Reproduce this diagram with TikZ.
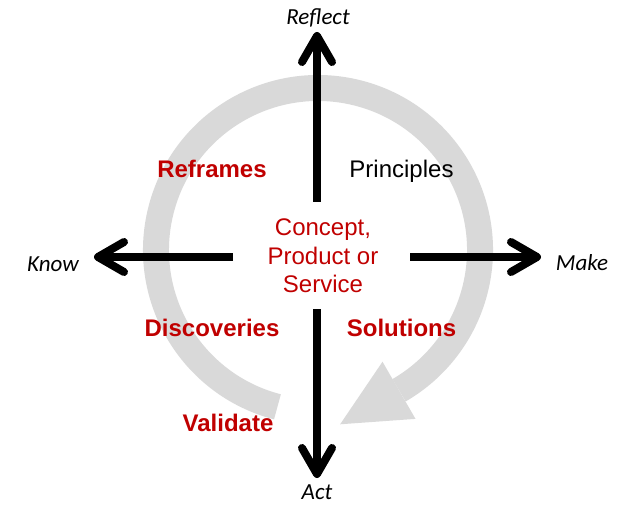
\documentclass[tikz,border=0pt]{standalone}
\usepackage{fontspec}
\setmainfont{Liberation Sans}
\newfontfamily\achsenschrift{Carlito}
\usetikzlibrary{arrows.meta}
\definecolor{kreis}{RGB}{217,217,217}
\definecolor{rot}{RGB}{192,0,0}

\begin{document}
\begin{tikzpicture}[x=1pt,y=-1pt,
	achse/.style={line width=8pt,-{Straight Barb[round,length=26pt,width=30pt]}},
	richtung/.style={anchor=base,inner sep=0pt,font=\achsenschrift\itshape\fontsize{23}{27}\selectfont},
	stufe/.style={anchor=base,text=rot,font=\bfseries\fontsize{24}{28}\selectfont}]
	\useasboundingbox (0,0) rectangle (621,505);
	\coordinate (O) at (318,250);
	% grauer Kreispfeil
	\draw[kreis,line width=26pt] (O) ++(104.5:162) arc[start angle=104.5,end angle=420,radius=162];
	\path (O) ++(60:129) coordinate (H1) (O) ++(60:195) coordinate (H2) (O) ++(60:162) ++(150:68) coordinate (H3);
	\fill[kreis] (H1) -- (H2) -- (H3) -- cycle;
	% Achsen
	\coordinate (A1) at (317,202);
	\coordinate (B1) at (317,32);
	\coordinate (A2) at (317,309);
	\coordinate (B2) at (317,478);
	\coordinate (A3) at (233,257);
	\coordinate (B3) at (94,257);
	\coordinate (A4) at (410,257);
	\coordinate (B4) at (541,257);
	\draw[achse] (A1) -- (B1);
	\draw[achse] (A2) -- (B2);
	\draw[achse] (A3) -- (B3);
	\draw[achse] (A4) -- (B4);
	\node[richtung,name=reflect] at (318,25) {Reflect};
	\node[richtung,name=act] at (317,499) {Act};
	\node[richtung,name=know] at (53,271.5) {Know};
	\node[richtung,name=make] at (582,270) {Make};
	% Mitte und Felder
	\node[name=konzept,text=rot,align=center,font=\fontsize{24}{28.3}\selectfont] at (323,256) {Concept,\\Product or\\Service};
	\node[stufe,name=reframes] at (212,178) {Reframes};
	\node[stufe,name=principles,text=black,font=\fontsize{24}{28}\selectfont] at (401.5,178) {Principles};
	\node[stufe,name=discoveries] at (212,336) {Discoveries};
	\node[stufe,name=solutions] at (401.5,336) {Solutions};
	\node[stufe,name=validate] at (228,431) {Validate};
\end{tikzpicture}
\end{document}
